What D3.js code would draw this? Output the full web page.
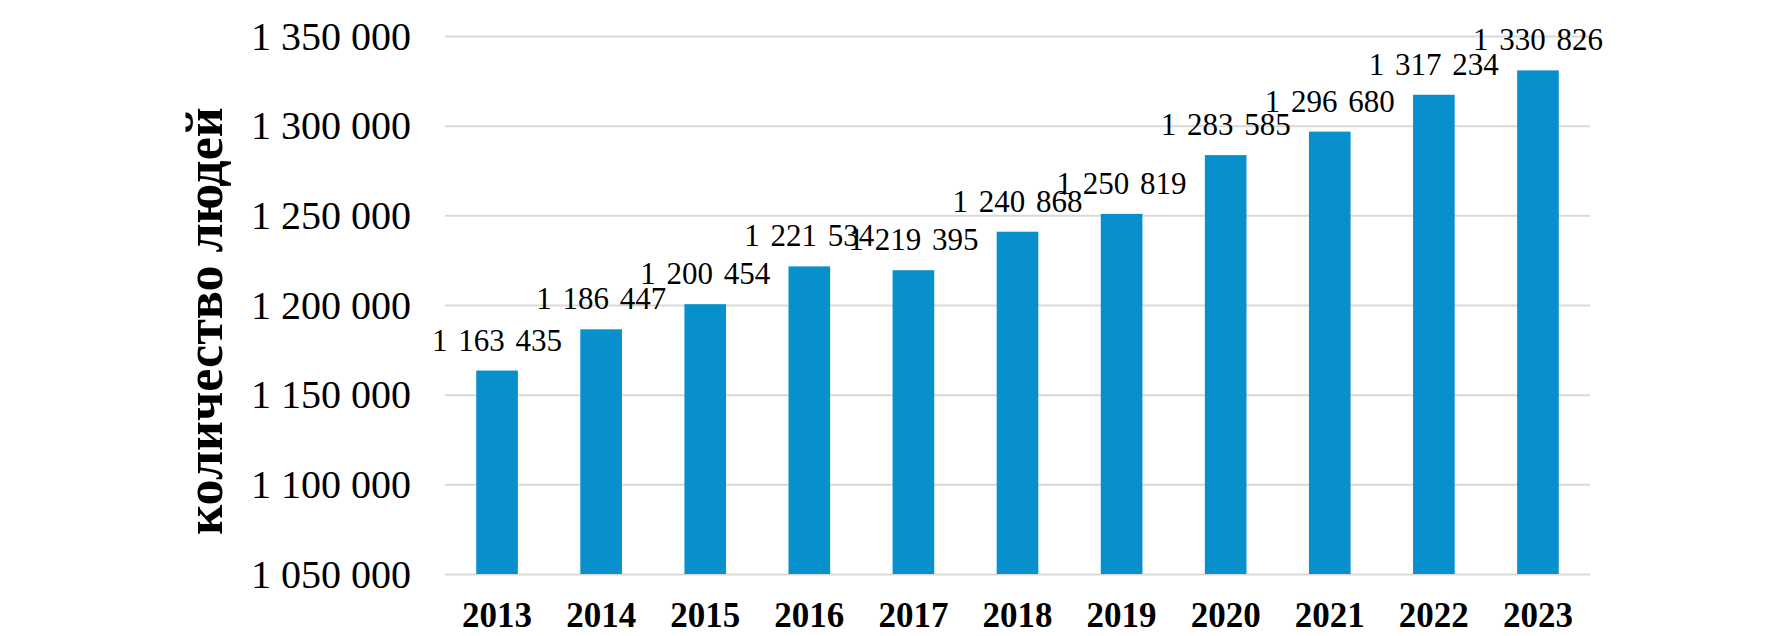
<!DOCTYPE html>
<html>
<head>
<meta charset="utf-8">
<script src="https://cdn.jsdelivr.net/npm/d3@7"></script>
<style>
  body { margin: 0; background: #fff; }
  svg text { font-family: "Liberation Serif", "Times New Roman", serif; }
</style>
</head>
<body>
<div id="chart"></div>
<script>
var years = ['2013', '2014', '2015', '2016', '2017', '2018', '2019', '2020', '2021', '2022', '2023'];
var people = [1163435, 1186447, 1200454, 1221534, 1219395, 1240868, 1250819, 1283585, 1296680, 1317234, 1330826];
var yTicks = [1050000, 1100000, 1150000, 1200000, 1250000, 1300000, 1350000];
var yTitle = 'количество людей';

var width = 1769,
    height = 636,
    left = 445,
    right = 1590,
    top_ = 36,
    bottom = 574;

var svg = d3.select('#chart').append('svg')
    .attr('width', width)
    .attr('height', height);

var xScale = d3.scaleBand()
    .range([left, right])
    .domain(years)
    .paddingInner(0.6)
    .paddingOuter(0.3);

var yScale = d3.scaleLinear()
    .range([bottom, top_])
    .domain([1050000, 1350000]);

var fmt = function(v) { return d3.format(',')(v).replace(/,/g, ' '); };

// grid lines
var grid = svg.append('g')
    .attr('transform', 'translate(' + left + ',0)')
    .call(d3.axisLeft(yScale)
      .tickValues(yTicks)
      .tickSize(-(right - left))
      .tickFormat('')
    );
grid.select('.domain').remove();
grid.selectAll('.tick line')
    .attr('stroke', '#d9d9d9')
    .attr('stroke-width', 2);

// y tick labels
var yAxis = svg.append('g')
    .attr('transform', 'translate(411,0)')
    .call(d3.axisLeft(yScale).tickValues(yTicks).tickSize(0).tickPadding(0).tickFormat(fmt));
yAxis.select('.domain').remove();
yAxis.selectAll('text')
    .attr('font-size', 40)
    .attr('font-family', '"Liberation Serif", serif')
    .attr('fill', '#000')
    .attr('dy', '0.33em');

// bars
svg.selectAll('.bar')
    .data(years)
    .enter()
    .append('rect')
    .attr('class', 'bar')
    .attr('x', function(d) { return xScale(d); })
    .attr('width', xScale.bandwidth())
    .attr('y', function(d, i) { return yScale(people[i]); })
    .attr('height', function(d, i) { return bottom - yScale(people[i]); })
    .attr('fill', '#0890cc');

// value labels (they overlap a bit, as in the source)
svg.selectAll('.value_bar')
    .data(years)
    .enter()
    .append('text')
    .attr('class', 'value_bar')
    .attr('x', function(d) { return xScale(d) + xScale.bandwidth() / 2; })
    .attr('y', function(d, i) { return yScale(people[i]) - 20; })
    .attr('text-anchor', 'middle')
    .attr('font-size', 31)
    .attr('word-spacing', 3)
    .attr('fill', '#000')
    .text(function(d, i) { return fmt(people[i]); });

// x labels
var xAxis = svg.append('g')
    .attr('transform', 'translate(0,' + bottom + ')')
    .call(d3.axisBottom(xScale).tickSize(0).tickPadding(0));
xAxis.select('.domain').remove();
xAxis.selectAll('text')
    .attr('font-size', 35)
    .attr('font-weight', 'bold')
    .attr('font-family', '"Liberation Serif", serif')
    .attr('fill', '#000')
    .attr('dy', null)
    .attr('y', 53);

// y title
svg.append('text')
    .attr('transform', 'translate(222,321) rotate(-90)')
    .attr('text-anchor', 'middle')
    .attr('font-size', 52)
    .attr('font-weight', 'bold')
    .attr('fill', '#000')
    .text(yTitle);
</script>
</body>
</html>
